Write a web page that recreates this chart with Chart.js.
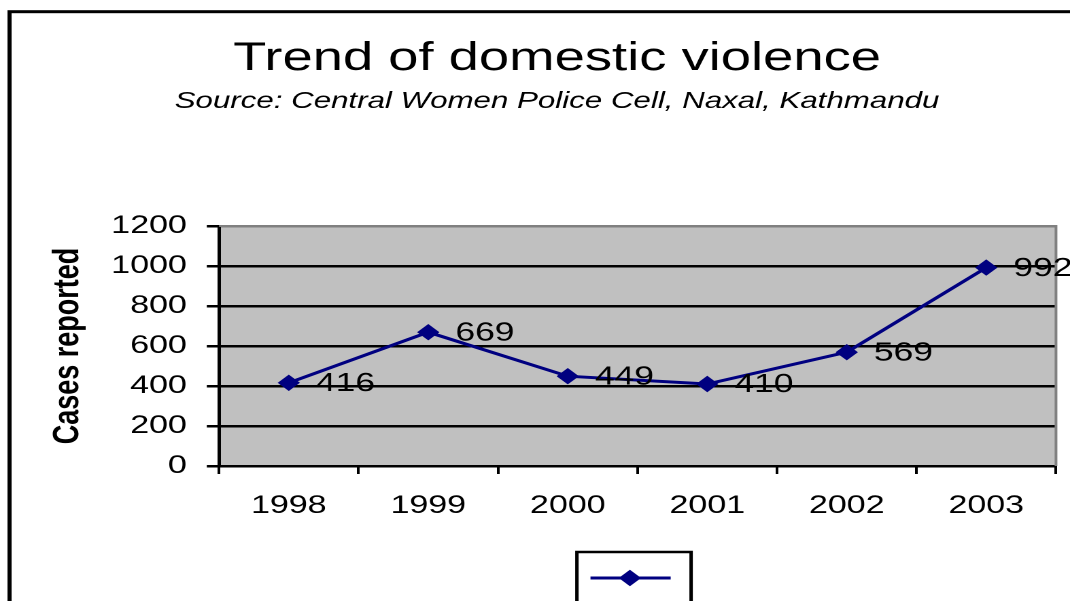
<!DOCTYPE html>
<html>
<head>
<meta charset="utf-8">
<script src="https://cdn.jsdelivr.net/npm/chart.js@4.4.1/dist/chart.umd.min.js"></script>
<style>
  html, body { margin: 0; padding: 0; background: #fff; overflow: hidden; }
  #wrap { width: 787px; height: 601px; transform: scaleX(1.3596); transform-origin: 0 0; }
</style>
</head>
<body>
<div id="wrap"><canvas id="c" width="787" height="601"></canvas></div>
<script>
const categories = ['1998', '1999', '2000', '2001', '2002', '2003'];
const casesReported = [416, 669, 449, 410, 569, 992];
const yTickValues = [0, 200, 400, 600, 800, 1000, 1200];
const titleText = 'Trend of domestic violence';
const subtitleText = 'Source: Central Women Police Cell, Naxal, Kathmandu';
const yAxisTitle = 'Cases reported';

const FONT = '"Liberation Sans", Arial, Helvetica, sans-serif';
const NAVY = '#000080';

const plotBg = {
  id: 'plotBg',
  beforeDraw(chart) {
    const { ctx, chartArea: a } = chart;
    ctx.save();
    ctx.fillStyle = '#ffffff';
    ctx.fillRect(0, 0, chart.width, chart.height);
    ctx.fillStyle = '#c0c0c0';
    ctx.fillRect(a.left, a.top, a.right - a.left, a.bottom - a.top);
    ctx.restore();
  },
  beforeDatasetsDraw(chart) {
    const { ctx, chartArea: a } = chart;
    ctx.save();
    ctx.strokeStyle = '#808080';
    ctx.lineWidth = 2;
    ctx.beginPath();
    ctx.moveTo(a.left, a.top);
    ctx.lineTo(a.right, a.top);
    ctx.lineTo(a.right, a.bottom);
    ctx.stroke();
    ctx.restore();
  }
};

const valueLabels = {
  id: 'valueLabels',
  afterDatasetsDraw(chart) {
    const { ctx } = chart;
    const ds = chart.data.datasets[0];
    const meta = chart.getDatasetMeta(0);
    ctx.save();
    ctx.font = '26px ' + FONT;
    ctx.fillStyle = '#000';
    ctx.textAlign = 'left';
    ctx.textBaseline = 'middle';
    meta.data.forEach((pt, i) => {
      ctx.fillText(String(ds.data[i]), pt.x + 20, pt.y + 1);
    });
    ctx.restore();
  }
};

const frameAndLegend = {
  id: 'frameAndLegend',
  afterDraw(chart) {
    const { ctx, chartArea: a } = chart;
    ctx.save();
    ctx.strokeStyle = '#000';
    ctx.lineWidth = 3;
    ctx.strokeRect(7, 11.7, chart.width + 20, chart.height + 20);
    const cx = (a.left + a.right) / 2 - 2.6;
    const boxW = 84, top = 552;
    ctx.lineWidth = 2.5;
    ctx.strokeRect(cx - boxW / 2, top, boxW, 70);
    const ds = chart.data.datasets[0];
    const ly = 578;
    ctx.strokeStyle = ds.borderColor;
    ctx.lineWidth = ds.borderWidth;
    ctx.beginPath();
    ctx.moveTo(cx - 32, ly);
    ctx.lineTo(cx + 27, ly);
    ctx.stroke();
    const px = cx - 3;
    ctx.fillStyle = ds.pointBackgroundColor;
    ctx.lineWidth = 1;
    if (Chart.helpers && Chart.helpers.drawPoint) {
      Chart.helpers.drawPoint(ctx, { pointStyle: 'rectRot', radius: ds.pointRadius, borderWidth: 1, rotation: 0 }, px, ly);
    } else {
      const r = ds.pointRadius;
      ctx.beginPath();
      ctx.moveTo(px - r, ly); ctx.lineTo(px, ly - r); ctx.lineTo(px + r, ly); ctx.lineTo(px, ly + r);
      ctx.closePath(); ctx.fill(); ctx.stroke();
    }
    ctx.restore();
  }
};

new Chart(document.getElementById('c'), {
  type: 'line',
  data: {
    labels: categories,
    datasets: [{
      label: '',
      data: casesReported,
      borderColor: NAVY,
      backgroundColor: NAVY,
      borderWidth: 3,
      pointStyle: 'rectRot',
      pointRadius: 7.5,
      pointHoverRadius: 7.5,
      pointBackgroundColor: NAVY,
      pointBorderColor: NAVY,
      pointBorderWidth: 1,
      tension: 0,
      clip: false
    }]
  },
  options: {
    responsive: false,
    animation: false,
    devicePixelRatio: 2,
    layout: { padding: { top: 0, left: 42.7, right: 10.3, bottom: 75 } },
    plugins: {
      legend: { display: false },
      tooltip: { enabled: false },
      title: {
        display: true,
        text: titleText,
        color: '#000',
        font: { family: FONT, size: 40, weight: 'normal', lineHeight: 1.2 },
        padding: { top: 35, bottom: 0 }
      },
      subtitle: {
        display: true,
        text: subtitleText,
        color: '#000',
        font: { family: FONT, size: 23, style: 'italic', weight: 'normal', lineHeight: 1.2 },
        padding: { top: 5, bottom: 110.4 }
      }
    },
    scales: {
      x: {
        type: 'category',
        offset: true,
        grid: {
          offset: true,
          drawOnChartArea: false,
          drawTicks: true,
          tickLength: 8,
          color: '#000',
          lineWidth: 2
        },
        border: { display: true, color: '#000', width: 2.5 },
        ticks: {
          color: '#000',
          font: { family: FONT, size: 25, lineHeight: 1.2 },
          padding: 17,
          maxRotation: 0,
          autoSkip: false
        },
        afterFit(scale) { scale.height = 60; }
      },
      y: {
        min: yTickValues[0],
        max: yTickValues[yTickValues.length - 1],
        afterBuildTicks(scale) { scale.ticks = yTickValues.map(v => ({ value: v })); },
        grid: {
          color: (c) => (c.tick && c.tick.value === yTickValues[yTickValues.length - 1]) ? '#808080' : '#000',
          tickColor: '#000',
          lineWidth: 2.5,
          tickLength: 9,
          drawTicks: true
        },
        border: { display: true, color: '#000', width: 2.5 },
        ticks: {
          color: '#000',
          font: { family: FONT, size: 25 },
          padding: 14.7,
          callback: (v) => String(v)
        },
        title: {
          display: true,
          text: yAxisTitle,
          color: '#000',
          font: { family: FONT, size: 27, weight: 'bold', lineHeight: 0.54 },
          padding: { top: 0, bottom: 0 }
        },
        afterFit(scale) { scale.width = 118.4; }
      }
    }
  },
  plugins: [plotBg, valueLabels, frameAndLegend]
});
</script>
</body>
</html>
